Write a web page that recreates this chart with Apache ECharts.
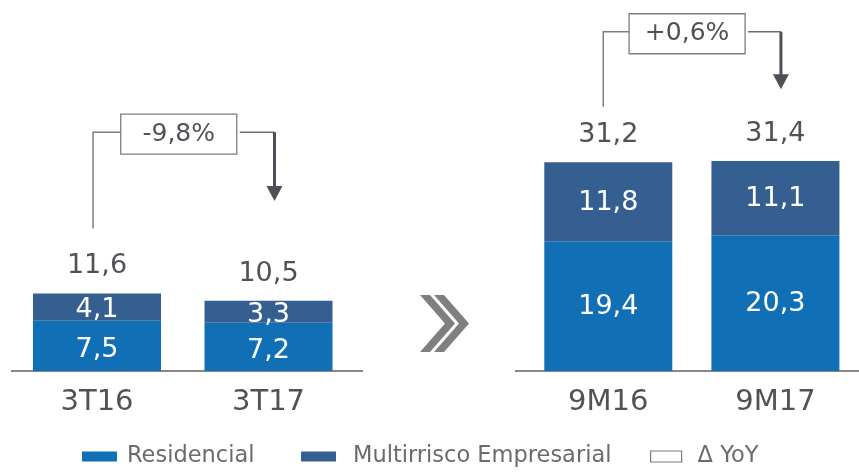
<!DOCTYPE html>
<html>
<head>
<meta charset="utf-8">
<script src="https://cdn.jsdelivr.net/npm/echarts@6/dist/echarts.min.js"></script>
<style>
html,body{margin:0;padding:0;background:#fff;}
#main{width:859px;height:472px;}
</style>
</head>
<body>
<div id="main"></div>
<script>
// ---- data ----
const categoriesLeft = ['3T16', '3T17'];
const categoriesRight = ['9M16', '9M17'];
const residencialLeft = [7.5, 7.2];
const multirriscoLeft = [4.1, 3.3];
const totalLeft = [11.6, 10.5];
const residencialRight = [19.4, 20.3];
const multirriscoRight = [11.8, 11.1];
const totalRight = [31.2, 31.4];
const yoyLabels = ['-9,8%', '+0,6%'];
const seriesNames = ['Residencial', 'Multirrisco Empresarial', 'Δ YoY'];

// ---- styles ----
const C_RES = '#116fb6';
const C_MUL = '#365f91';
const C_TXT = '#4f5358';
const C_AXIS = '#878787';
const FONT = "'DejaVu Sans', Verdana, sans-serif";
const fmt = v => String(v).replace('.', ',');

const chart = echarts.init(document.getElementById('main'));

function grid(left, width) {
  return { left: left, width: width, bottom: 101, top: 3, containLabel: false };
}
function xAx(gi, cats) {
  return {
    type: 'category', gridIndex: gi, data: cats,
    axisLine: { show: false }, axisTick: { show: false },
    axisLabel: { color: C_TXT, fontSize: 29, fontFamily: FONT, margin: 17 }
  };
}
function yAx(gi) {
  return { type: 'value', gridIndex: gi, min: 0, max: 55, show: false, splitLine: { show: false } };
}
function insideLabel(dy) {
  return {
    show: true, position: 'inside', color: '#ffffff', fontSize: 27, fontFamily: FONT,
    formatter: p => fmt(p.value), offset: [0, dy]
  };
}
function barSeries(gi, name, data, color, stack, dy) {
  return {
    type: 'bar', name: name, xAxisIndex: gi, yAxisIndex: gi, stack: stack,
    data: data, barWidth: 128, itemStyle: { color: color },
    label: insideLabel(dy), emphasis: { disabled: true }, silent: true
  };
}
function totalSeries(gi, data) {
  return {
    type: 'scatter', name: 'total' + gi, xAxisIndex: gi, yAxisIndex: gi,
    data: data, symbolSize: 1, itemStyle: { color: 'rgba(0,0,0,0)', opacity: 1 }, silent: true,
    label: { show: true, position: 'top', distance: 13, color: C_TXT, opacity: 1, fontSize: 27, lineHeight: 27,
      fontFamily: FONT, formatter: p => fmt(p.value) }
  };
}
function legend(left, name, padLeft, extra) {
  return Object.assign({
    left: left, top: 440, padding: 0, itemWidth: 35, itemHeight: 10, itemGap: 0,
    selectedMode: false,
    textStyle: { color: '#6b6b6b', fontSize: 22.5, lineHeight: 23,
      fontFamily: FONT, padding: [10, 0, 0, padLeft] },
    data: [{ name: name, icon: 'rect' }]
  }, extra || {});
}

chart.setOption({
  animation: false,
  backgroundColor: '#ffffff',
  grid: [grid(11.25, 343), grid(524.7, 342.4)],
  xAxis: [xAx(0, categoriesLeft), xAx(1, categoriesRight)],
  yAxis: [yAx(0), yAx(1)],
  legend: [
    legend(82, seriesNames[0], 5),
    legend(301, seriesNames[1], 12),
    legend(650, seriesNames[2], 11, {
      itemWidth: 31, itemHeight: 11,
      data: [{ name: seriesNames[2], icon: 'rect',
        itemStyle: { color: '#ffffff', borderColor: '#7a7a7a', borderWidth: 1.2 } }]
    })
  ],
  series: [
    barSeries(0, seriesNames[0], residencialLeft, C_RES, 'a', 4),
    barSeries(0, seriesNames[1], multirriscoLeft, C_MUL, 'a', 3),
    barSeries(1, seriesNames[0], residencialRight, C_RES, 'b', 1),
    barSeries(1, seriesNames[1], multirriscoRight, C_MUL, 'b', 1),
    totalSeries(0, totalLeft),
    totalSeries(1, totalRight),
    { type: 'line', name: seriesNames[2], data: [], xAxisIndex: 0, yAxisIndex: 0,
      itemStyle: { color: '#ffffff', borderColor: '#7a7a7a' } }
  ]
});

// ---- annotations (positions in value units of each panel) ----
const annot = [
  { gi: 0, from: 0, to: 1, lineY: 35.7, leftBottom: 21.3, tip: 25.4, dxL: -4, dxR: 6 },
  { gi: 1, from: 0, to: 1, lineY: 50.7, leftBottom: 39.5, tip: 42.1, dxL: -5, dxR: 5.5 }
];
const graphics = [];
annot.forEach((a, i) => {
  const px = v => chart.convertToPixel({ gridIndex: a.gi }, v);
  const xl = px([a.from, 0])[0] + a.dxL;
  const xr = px([a.to, 0])[0] + a.dxR;
  const yB = px([0, a.lineY])[1];
  const yLb = px([0, a.leftBottom])[1];
  const yTip = px([0, a.tip])[1];
  const boxW = 116, boxH = 40;
  const bcx = (xl + xr) / 2 - 5, bcy = yB + 2;
  graphics.push({ type: 'polyline', shape: { points: [[xl, yLb], [xl, yB], [bcx - boxW / 2, yB]] },
    style: { stroke: '#7b7e82', lineWidth: 1.5, fill: null } });
  graphics.push({ type: 'polyline', shape: { points: [[bcx + boxW / 2 + 3, yB], [xr, yB]] },
    style: { stroke: '#6c6f73', lineWidth: 1.5, fill: null } });
  graphics.push({ type: 'line', shape: { x1: xr, y1: yB, x2: xr, y2: yTip - 14 },
    style: { stroke: '#4d5157', lineWidth: 3 } });
  graphics.push({ type: 'polygon', shape: { points: [[xr - 8, yTip - 15], [xr + 8, yTip - 15], [xr, yTip]] },
    style: { fill: '#4d5157' } });
  graphics.push({ type: 'rect', shape: { x: bcx - boxW / 2, y: bcy - boxH / 2, width: boxW, height: boxH },
    style: { fill: '#ffffff', stroke: '#7b7e82', lineWidth: 1.3 } });
  graphics.push({ type: 'text', x: bcx, y: bcy, style: { text: yoyLabels[i], fill: C_TXT,
    font: "25px 'DejaVu Sans', Verdana, sans-serif", align: 'center', verticalAlign: 'middle' } });
});
// baselines
const y0 = chart.convertToPixel({ gridIndex: 0 }, [0, 0])[1];
graphics.push({ type: 'line', shape: { x1: 11, y1: y0, x2: 363, y2: y0 }, style: { stroke: C_AXIS, lineWidth: 2 } });
graphics.push({ type: 'line', shape: { x1: 515, y1: y0, x2: 859, y2: y0 }, style: { stroke: C_AXIS, lineWidth: 2 } });
// chevrons
function chevron(x0) {
  const yt = 295, yb = 352, ym = 323.5, w = 10, h = 25;
  return { type: 'polygon', shape: { points: [[x0, yt], [x0 + w, yt], [x0 + w + h, ym], [x0 + w, yb], [x0, yb], [x0 + h, ym]] },
    style: { fill: '#7f7f7f' } };
}
graphics.push(chevron(420));
graphics.push(chevron(434));
chart.setOption({ graphic: graphics });
</script>
</body>
</html>
